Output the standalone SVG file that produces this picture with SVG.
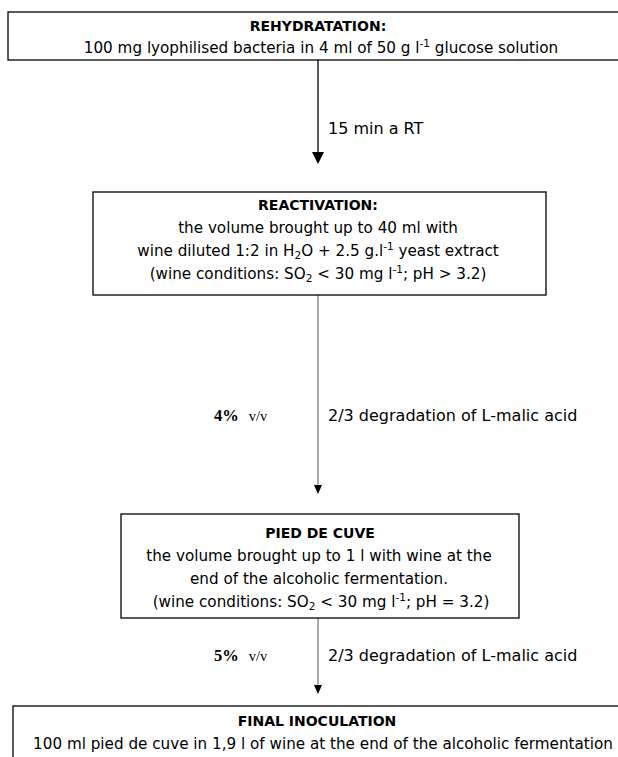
<svg xmlns="http://www.w3.org/2000/svg" width="618" height="757" viewBox="0 0 618 757">
<style>
.box{fill:#fff;stroke:#000;stroke-width:1.3}
.t{font-family:"DejaVu Sans",sans-serif;font-size:15.2px;fill:#000;text-anchor:middle}
.b{font-weight:bold;font-size:14px}
.l{font-family:"DejaVu Sans",sans-serif;font-size:16px;fill:#000}
.s{font-family:"Liberation Serif",serif;font-size:16.5px;fill:#000}
.sup{font-size:10.5px}
.ln{stroke:#000;stroke-width:1.3;fill:none}
.ln2{stroke:#555;stroke-width:1;fill:none}
</style>
<g id="connectors">
<line class="ln" x1="318" y1="60" x2="318" y2="153"/>
<polygon points="312,152 324,152 318,164" fill="#000"/>
<line class="ln2" x1="318" y1="295" x2="318" y2="486"/>
<polygon points="314,485 322,485 318,494" fill="#000"/>
<line class="ln2" x1="318" y1="618" x2="318" y2="686"/>
<polygon points="314,685 322,685 318,694" fill="#000"/>
<text class="l" x="328" y="134" font-size="14.5">15 min a RT</text>
<text class="s" x="214" y="421"><tspan font-weight="bold">4%</tspan><tspan font-size="14.5px" dx="10">v/v</tspan></text>
<text class="l" x="328" y="421">2/3 degradation of L-malic acid</text>
<text class="s" x="214" y="661"><tspan font-weight="bold">5%</tspan><tspan font-size="14.5px" dx="10">v/v</tspan></text>
<text class="l" x="328" y="661">2/3 degradation of L-malic acid</text>
</g>
<g id="rehydratation">
<rect class="box" x="8" y="12" width="620" height="48"/>
<text class="t b" x="318" y="31">REHYDRATATION:</text>
<text class="t" x="321" y="53" font-size="16">100 mg lyophilised bacteria in 4 ml of 50 g l<tspan class="sup" dy="-6">-1</tspan><tspan dy="6"> glucose solution</tspan></text>
</g>
<g id="reactivation">
<rect class="box" x="93" y="192" width="453" height="103"/>
<text class="t b" x="318" y="210">REACTIVATION:</text>
<text class="t" x="318" y="233">the volume brought up to 40 ml with</text>
<text class="t" x="318" y="256">wine diluted 1:2 in H<tspan class="sup" dy="3">2</tspan><tspan dy="-3">O + 2.5 g.l</tspan><tspan class="sup" dy="-6">-1</tspan><tspan dy="6"> yeast extract</tspan></text>
<text class="t" x="318" y="279">(wine conditions: SO<tspan class="sup" dy="3">2</tspan><tspan dy="-3"> &lt; 30 mg l</tspan><tspan class="sup" dy="-6">-1</tspan><tspan dy="6">; pH &gt; 3.2)</tspan></text>
</g>
<g id="pied-de-cuve">
<rect class="box" x="121" y="514" width="398" height="104"/>
<text class="t b" x="320" y="538">PIED DE CUVE</text>
<text class="t" x="319" y="561">the volume brought up to 1 l with wine at the</text>
<text class="t" x="319" y="584">end of the alcoholic fermentation.</text>
<text class="t" x="321" y="607">(wine conditions: SO<tspan class="sup" dy="3">2</tspan><tspan dy="-3"> &lt; 30 mg l</tspan><tspan class="sup" dy="-6">-1</tspan><tspan dy="6">; pH = 3.2)</tspan></text>
</g>
<g id="final-inoculation">
<rect class="box" x="13" y="706" width="620" height="60"/>
<text class="t b" x="317" y="726">FINAL INOCULATION</text>
<text class="t" x="323" y="749" font-size="15">100 ml pied de cuve in 1,9 l of wine at the end of the alcoholic fermentation</text>
</g>
</svg>
